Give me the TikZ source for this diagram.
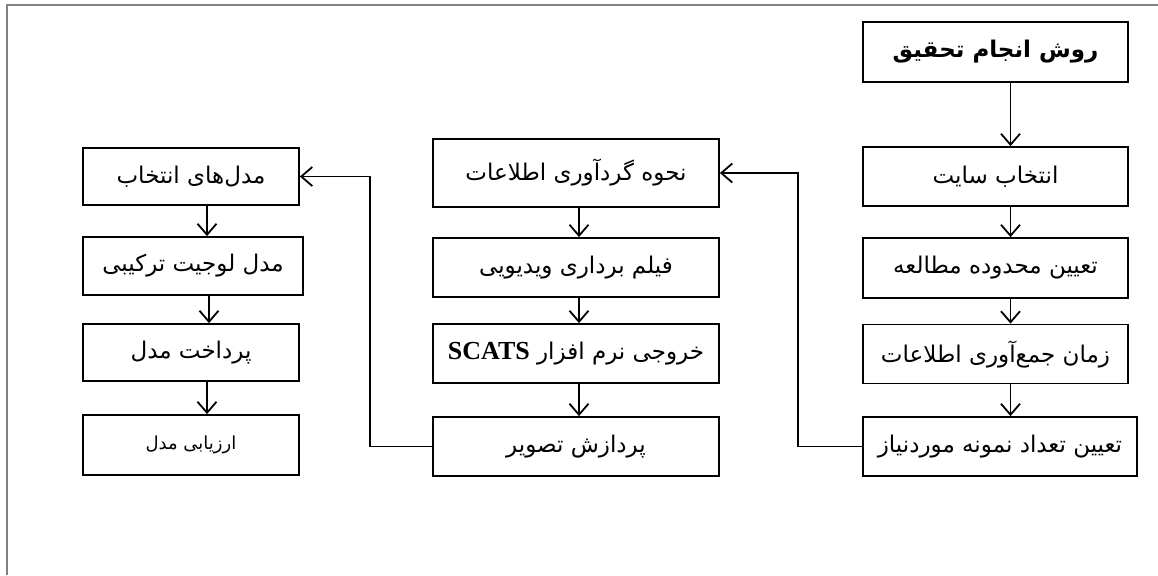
\documentclass[tikz,border=0pt]{standalone}
\usepackage{fontspec}
\setmainfont{Liberation Serif}
\newfontfamily\farsi[Script=Arabic]{DejaVu Sans}
\TeXXeTstate=1
\usetikzlibrary{arrows.meta}
\newcommand{\fa}[1]{{\farsi\beginR #1\endR}}
\begin{document}
\begin{tikzpicture}[x=0.5pt,y=-0.5pt]
\tikzstyle{box}=[draw, line width=0.9pt, inner sep=0pt, font=\fontsize{11.5}{13}\selectfont]
\tikzstyle{rbox}=[box, minimum width=132.5pt, minimum height=29.5pt]
\tikzstyle{mbox}=[box, minimum width=143pt, minimum height=29.5pt]
\tikzstyle{lbox}=[box, minimum width=108pt, minimum height=28.5pt]
\tikzstyle{arr}=[line width=0.9pt, -{Straight Barb[length=5.5pt,width=9.5pt]}]
\useasboundingbox (0,0) rectangle (1158,575);
\draw[gray, line width=1pt] (7,575) -- (7,5) -- (1158,5);
% right column
\node[rbox, minimum height=30pt] (t0) at (995.5,52){\fa{\bfseries روش انجام تحقیق}};
\node[rbox] (r1) at (995.5,176.5){\fa{انتخاب سایت}};
\node[rbox, minimum height=30pt] (r2) at (995.5,268){\fa{تعیین محدوده مطالعه}};
\node[rbox] (r3) at (995.5,354){\fa{زمان جمع‌آوری اطلاعات}};
\node[rbox, minimum width=137pt] (r4) at (1000,446.5){\fa{تعیین تعداد نمونه موردنیاز}};
% middle column
\node[mbox, minimum height=34pt] (m1) at (576,173){\fa{نحوه گردآوری اطلاعات}};
\node[mbox] (m2) at (576,267.5){\fa{فیلم برداری ویدیویی}};
\node[mbox] (m3) at (576,353.5){\fa{خروجی نرم افزار \beginL{\rmfamily\bfseries\fontsize{13}{15}\selectfont SCATS}\endL}};
\node[mbox] (m4) at (576,446.5){\fa{پردازش تصویر}};
% left column
\node[lbox] (l1) at (191,176.5){\fa{مدل‌های انتخاب}};
\node[lbox, minimum width=110pt, minimum height=29pt] (l2) at (193,266){\fa{مدل لوجیت ترکیبی}};
\node[lbox] (l3) at (191,352.5){\fa{پرداخت مدل}};
\node[lbox, minimum height=30pt, font=\fontsize{9}{11}\selectfont] (l4) at (191,445){\fa{ارزیابی مدل}};
\foreach \a/\b in {t0/r1,r1/r2,r2/r3,r3/r4}{\draw[arr] ([xshift=7.5pt]\a.south) -- ([xshift=7.5pt]\a.south |- \b.north);}
\foreach \a/\b in {m1/m2,m2/m3,m3/m4}{\draw[arr] ([xshift=1.5pt]\a.south) -- ([xshift=1.5pt]\a.south |- \b.north);}
\foreach \a/\b in {l1/l2,l2/l3,l3/l4}{\draw[arr] ([xshift=8pt]\a.south) -- ([xshift=8pt]\a.south |- \b.north);}
\draw[arr] (r4.west) -- ++(-64,0) |- (m1.east);
\draw[arr] (m4.west) -- ++(-62,0) |- (l1.east);
\end{tikzpicture}
\end{document}
